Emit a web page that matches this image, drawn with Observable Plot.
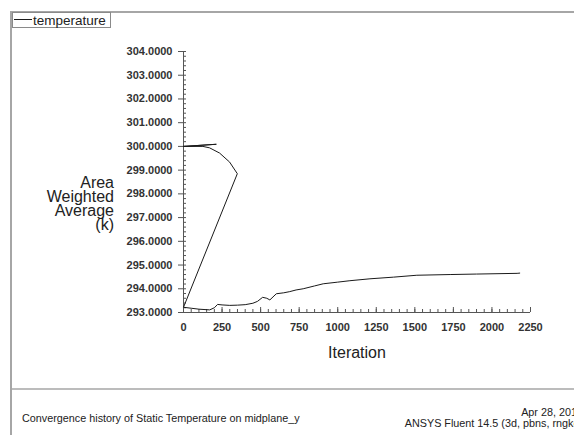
<!DOCTYPE html>
<html>
<head>
<meta charset="utf-8">
<script src="https://cdn.jsdelivr.net/npm/d3@7"></script>
<script src="https://cdn.jsdelivr.net/npm/@observablehq/plot@0.6"></script>
<style>
  html, body { margin: 0; padding: 0; background: #fff; }
  #chart svg { display: block; font-family: "Liberation Sans", Arial, sans-serif; }
</style>
</head>
<body>
<div id="chart"></div>
<script>
// Monitor history of area-weighted average temperature, in plotting order
// (the run restarts at iteration 0, so the trace jumps back).
const iteration = [
  0, 213, 0, 126, 169, 234, 299, 349,
  0, 50, 100, 170, 200, 221, 250, 300, 350, 400, 450, 480, 513, 540, 560,
  602, 650, 689, 730, 776, 850, 906, 1000, 1079, 1209, 1361, 1513, 1729,
  1900, 2163, 2180
];
const temperature = [
  300.0, 300.09, 300.0, 300.0, 299.94, 299.72, 299.34, 298.85,
  293.22, 293.18, 293.14, 293.11, 293.2, 293.34, 293.32, 293.3, 293.31,
  293.33, 293.39, 293.47, 293.64, 293.6, 293.53,
  293.79, 293.83, 293.88, 293.95, 294.0, 294.12, 294.21, 294.28, 294.34,
  294.42, 294.49, 294.57, 294.6, 294.62, 294.65, 294.66
];

const xMajorTicks = d3.range(0, 2251, 250);
const xMinorTicks = d3.range(0, 2251, 50);
const yMajorTicks = d3.range(293, 304.001, 1);
const yMinorTicks = d3.range(0, 56).map(i => 293 + i * 0.2);
const yTitleLines = ["Area", "Weighted", "Average", "(k)"];
const legendLabel = "temperature";
const xLabel = "Iteration";
const footerLeft = "Convergence history of Static Temperature on midplane_y";
const footerDate = "Apr 28, 2014";
const footerSolver = "ANSYS Fluent 14.5 (3d, pbns, rngke)";

const rows = iteration.map((it, i) => ({iteration: it, temperature: temperature[i]}));

const W = 574, H = 435;
const tickColor = "#555";
const textColor = "#222";

const svg = Plot.plot({
  width: W,
  height: H,
  marginLeft: 183,
  marginRight: 44,
  marginTop: 51,
  marginBottom: 123,
  style: {fontFamily: "Liberation Sans, Arial, sans-serif", fontSize: "11px", color: textColor, background: "#fff"},
  x: {domain: [0, 2250]},
  y: {domain: [293, 304]},
  marks: [
    // axis lines
    Plot.ruleX([0], {y1: 293, y2: 304, stroke: tickColor}),
    Plot.ruleY([293], {x1: 0, x2: 2250, stroke: tickColor}),
    // y axis: labels, major ticks outward, minor ticks inward
    Plot.axisY({ticks: yMajorTicks, tickSize: 0, tickPadding: 11, tickFormat: d => d.toFixed(4), fontWeight: "bold", fill: "#333", label: null}),
    Plot.axisY({ticks: yMajorTicks, tickSize: 5, text: null, stroke: tickColor, label: null}),
    Plot.axisY({ticks: yMinorTicks, tickSize: -3, text: null, stroke: tickColor, label: null}),
    // x axis: labels below, ticks pointing up into the plot
    Plot.axisX({ticks: xMajorTicks, tickSize: 0, tickPadding: 11, tickFormat: d => String(d), fontWeight: "bold", fill: "#333", label: null}),
    Plot.axisX({ticks: xMajorTicks, tickSize: -5, text: null, stroke: tickColor, label: null}),
    Plot.axisX({ticks: xMinorTicks, tickSize: -3, text: null, stroke: tickColor, label: null}),
    // monitor trace
    Plot.line(rows, {x: "iteration", y: "temperature", stroke: "#1a1a1a", strokeWidth: 1, curve: "linear"})
  ]
});

const s = d3.select(svg).attr("overflow", "hidden");

// window frame and footer separator
const frameColor = "#a6a6a6";
s.append("line").attr("x1", 11).attr("x2", 11).attr("y1", 11).attr("y2", H)
  .attr("stroke", frameColor).attr("stroke-width", 2);
s.append("line").attr("x1", 10).attr("x2", W).attr("y1", 12).attr("y2", 12)
  .attr("stroke", frameColor).attr("stroke-width", 2);
s.append("line").attr("x1", 11).attr("x2", W).attr("y1", 389).attr("y2", 389)
  .attr("stroke", frameColor).attr("stroke-width", 1.5);

// legend box
const lg = s.append("g").attr("text-anchor", "start");
lg.append("rect").attr("x", 12.5).attr("y", 12.5).attr("width", 98).attr("height", 15)
  .attr("fill", "#fff").attr("stroke", "#8a8a8a");
lg.append("line").attr("x1", 14).attr("x2", 32).attr("y1", 19.5).attr("y2", 19.5)
  .attr("stroke", "#1a1a1a");
lg.append("text").attr("x", 33).attr("y", 24.5).attr("font-size", 13.5)
  .attr("text-anchor", "start").attr("fill", textColor).text(legendLabel);

// y axis title, right aligned, stacked lines
const yt = s.append("text").attr("text-anchor", "end").attr("font-size", 16).attr("fill", textColor);
const baselines = [188, 202, 216, 230];
yTitleLines.forEach((t, i) => yt.append("tspan").attr("x", 114).attr("y", baselines[i]).text(t));

// x axis title
s.append("text").attr("x", 357).attr("y", 358).attr("text-anchor", "middle")
  .attr("font-size", 16).attr("fill", textColor).text(xLabel);

// footer
s.append("text").attr("x", 22).attr("y", 422).attr("font-size", 10.8)
  .attr("text-anchor", "start").attr("fill", textColor).text(footerLeft);
s.append("text").attr("x", 583).attr("y", 416).attr("text-anchor", "end").attr("font-size", 10.8)
  .attr("fill", textColor).text(footerDate);
s.append("text").attr("x", 583).attr("y", 427).attr("text-anchor", "end").attr("font-size", 10.8)
  .attr("fill", textColor).text(footerSolver);

document.getElementById("chart").append(svg);
</script>
</body>
</html>
